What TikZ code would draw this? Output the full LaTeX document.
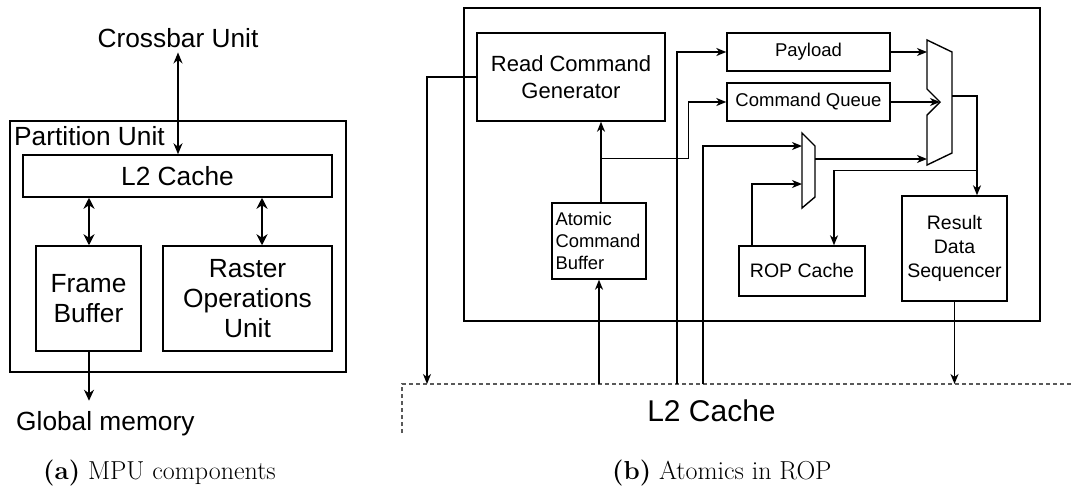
\documentclass[tikz,border=0pt]{standalone}
\usepackage{fontspec}
\setmainfont{Latin Modern Roman}
\newfontfamily\arial{Liberation Sans}
\usetikzlibrary{arrows.meta,calc}
\begin{document}
\begin{tikzpicture}[x=1pt,y=-1pt,
  thinln/.style={line width=1.4pt},
  boxln/.style={line width=1.5pt},
  thickln/.style={line width=2pt},
  arr/.style={-{Stealth[length=10pt,width=8pt,inset=3pt]}},
  larr/.style={-{Stealth[length=11pt,width=10pt,inset=3.5pt]}},
  darr/.style={{Stealth[length=11pt,width=11pt,inset=3.5pt]}-{Stealth[length=11pt,width=11pt,inset=3.5pt]}},
  xarr/.style={{Stealth[length=11pt,width=9pt,inset=3.5pt]}-{Stealth[length=11pt,width=9pt,inset=3.5pt]}},
  lfont/.style={font=\arial\fontsize{26.3pt}{30pt}\selectfont},
  lbox/.style={draw,boxln,inner sep=0pt,align=center,lfont},
  rbox/.style={draw,thinln,inner sep=0pt,align=center},
  capfont/.style={font=\fontsize{26pt}{31pt}\selectfont},
  muxst/.style={draw,thinln,fill=white,line join=miter}
]
\useasboundingbox (0,0) rectangle (1071,485);

% ---------------- (a) MPU components ----------------
\node[lbox, minimum width=336pt, minimum height=251pt] (pu) at (178,246.5) {};
\node[lfont, anchor=base west, inner sep=0pt] (put) at (14,145) {Partition Unit};
\node[lbox, minimum width=309pt, minimum height=42pt] (l2a) at (177.5,176) {L2 Cache};
\node[lbox, minimum width=105pt, minimum height=105pt] (fb) at (88.5,298.5) {Frame\\Buffer};
\node[lbox, minimum width=169pt, minimum height=105pt] (rou) at (247.5,298.5) {Raster\\Operations\\Unit};
\node[lfont, anchor=base, inner sep=0pt] (xbar) at (178,47) {Crossbar Unit};
\node[lfont, anchor=base west, inner sep=0pt] (gm) at (16,430) {Global memory};

\draw[thinln,xarr] ([yshift=-5pt]xbar.south) -- (xbar.south |- l2a.north);
\draw[thickln,darr] ([xshift=0.5pt]fb.north) -- ([xshift=0.5pt]fb.north |- l2a.south);
\draw[thickln,darr] ([xshift=14.5pt]rou.north) -- ([xshift=14.5pt]rou.north |- l2a.south);
\draw[thinln,larr] ([xshift=0.5pt]fb.south) -- ([xshift=0.5pt,yshift=10pt]fb.south |- gm.north);

\node[capfont, anchor=base west, inner sep=0pt] (capa) at (43,479) {\textbf{(a)} MPU components};

% ---------------- (b) Atomics in ROP ----------------
\node[rbox, minimum width=576pt, minimum height=313pt] (rop) at (752,164.5) {};

% dashed L2 cache
\coordinate (l2sw) at (402,433);
\coordinate (l2nw) at (402,384);
\coordinate (l2ne) at (1071,384);
\draw[thinln, gray!70!black, dash pattern=on 4pt off 3pt] (l2sw) -- (l2nw) -- (l2ne);
\node[anchor=base, inner sep=0pt, font=\arial\fontsize{30pt}{34pt}\selectfont] (l2b) at (711.5,421) {L2 Cache};

% muxes
\coordinate (b1) at (927,40);
\coordinate (b2) at (952,52);
\coordinate (b3) at (952,153);
\coordinate (b4) at (927,165);
\coordinate (b5) at (927,115);
\coordinate (b6) at (940,102);
\coordinate (b7) at (927,89);
\coordinate (s1) at (802,133);
\coordinate (s2) at (815,146);
\coordinate (s3) at (815,197);
\coordinate (s4) at (802,208);
\coordinate (bin1) at (927,52);
\coordinate (bin2) at (940,102);
\coordinate (bin3) at (927,159);
\coordinate (bout) at (952,96);
\coordinate (sin1) at (802,146);
\coordinate (sin2) at (802,184);
\coordinate (sout) at (815,159);

% sources on L2
\coordinate (rcgdn) at (427,384);
\coordinate (payup) at (677,384);
\coordinate (ropup) at (703,384);
\coordinate (acbup) at (599,384);

\node[rbox, minimum width=188pt, minimum height=88pt, font=\arial\fontsize{22pt}{27pt}\selectfont] (rcg) at (571,77) {Read Command\\Generator};
\node[rbox, minimum width=163pt, minimum height=38pt, font=\arial\fontsize{18.5pt}{22pt}\selectfont] (pay) at (808.5,52) {Payload};
\node[rbox, minimum width=163pt, minimum height=38pt, font=\arial\fontsize{18.5pt}{22pt}\selectfont] (cq) at (808.5,102) {Command Queue};
\node[rbox, text width=87pt, inner xsep=3.5pt, minimum height=76pt, align=left, font=\arial\fontsize{18.4pt}{22pt}\selectfont] (acb) at (599,241) {Atomic\\Command\\Buffer};
\node[rbox, minimum width=126pt, minimum height=50pt, font=\arial\fontsize{19.5pt}{24pt}\selectfont] (ropc) at (802,271) {ROP Cache};
\node[rbox, minimum width=105pt, minimum height=105pt, font=\arial\fontsize{19.5pt}{24pt}\selectfont] (rds) at (954.5,248.5) {Result\\Data\\Sequencer};

\draw[muxst] (b1) -- (b2) -- (b3) -- (b4) -- (b5) -- (b6) -- (b7) -- cycle;
\draw[muxst] (s1) -- (s2) -- (s3) -- (s4) -- cycle;

\draw[thinln,arr] (rcg.west) -| (rcgdn);
\draw[thinln,arr] ([xshift=2pt]acb.north) -- ([xshift=2pt]acb.north |- rcg.south);
\draw[thinln,arr] ([xshift=2pt,yshift=44pt]acb.north) -| ([xshift=-38pt]cq.west) -- (cq.west);
\draw[thinln,arr] (payup) |- (pay.west);
\draw[thinln,arr] (ropup) |- (sin1);
\draw[thinln,arr] ([xshift=-50pt]ropc.north) |- (sin2);
\draw[thinln,arr] (sout) -- (bin3);
\draw[thinln,arr] (pay.east) -- (bin1);
\draw[thinln,arr] (cq.east) -- (bin2);
\draw[thinln,arr] (bout) -| ([xshift=22.5pt]rds.north);
\draw[thinln,arr] ([xshift=22.5pt,yshift=25pt]rds.north) -| ([xshift=32pt]ropc.north);
\draw[thinln,arr] (acbup) -- (acb.south);
\draw[thinln,arr] (rds.south) -- (rds.south |- l2nw);

\node[capfont, anchor=base west, inner sep=0pt] (capb) at (612,479) {\textbf{(b)} Atomics in ROP};
\end{tikzpicture}
\end{document}
